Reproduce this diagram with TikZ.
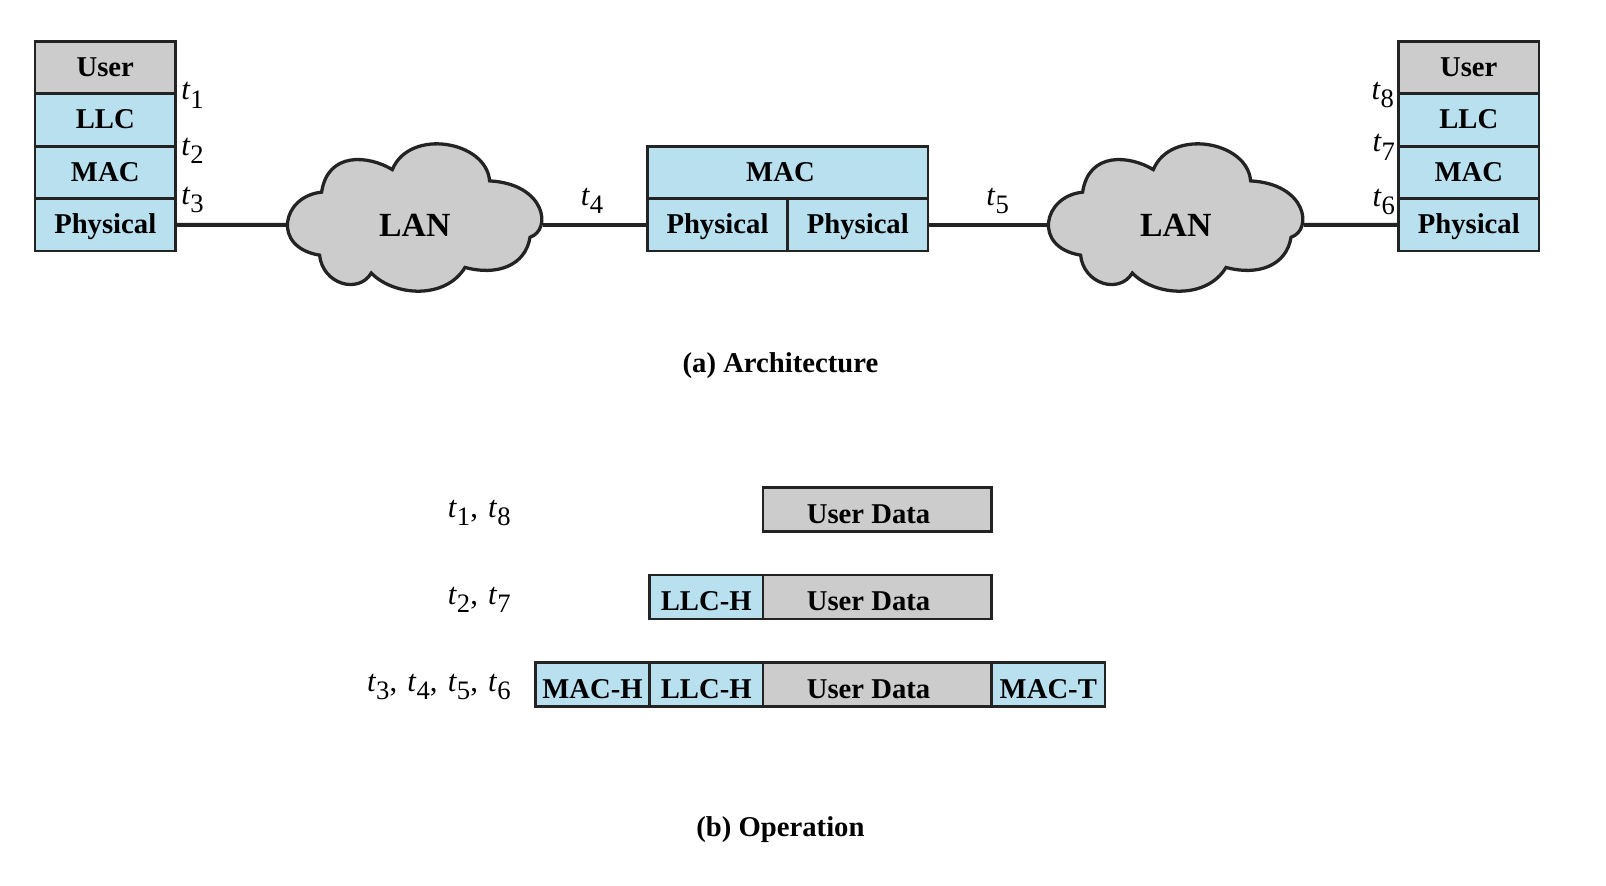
\documentclass[tikz,border=0pt]{standalone}
\usepackage{fontspec}
\setmainfont{Liberation Serif}
\definecolor{myblue}{RGB}{185,224,239}
\definecolor{mygray}{RGB}{204,204,204}
\definecolor{myline}{RGB}{35,35,35}
\usetikzlibrary{positioning}
\newcommand{\tsub}[1]{\textit{t}\raisebox{-0.27em}{\fontsize{13}{13}\selectfont #1}}
\newcommand{\tsep}{,\hspace{5pt}}
\newcommand{\lancloud}[1]{
  \draw[cloudline,shift={#1}]
    (-91,-32) .. controls (-130,-28) and (-140,22) .. (-93,29.5)
    .. controls (-90,58) and (-55,68) .. (-42.5,47)
    .. controls (-20,70) and (30,73) .. (49,41.5)
    .. controls (80,50) and (108,40) .. (112.5,12)
    .. controls (134,5) and (128,-40) .. (73,-43)
    .. controls (70,-82) and (-5,-95) .. (-22,-54)
    .. controls (-45,-68) and (-85,-72) .. (-91,-32)
    -- cycle;
}

\begin{document}
\begin{tikzpicture}[
  x=0.5pt,y=-0.5pt,
  font=\bfseries\fontsize{14}{16}\selectfont,
  layer/.style={
    draw=myline,
    line width=1.3pt,
    outer sep=0pt,
    inner sep=0pt,
    minimum width=68.5pt,
    minimum height=25.6pt,
    text height=10pt,
    text depth=1.5pt
    },
  bluelayer/.style={layer,fill=myblue},
  graylayer/.style={layer,fill=mygray},
  field/.style={
    draw=myline,
    line width=1.3pt,
    outer sep=0pt,
    inner sep=0pt,
    minimum width=#1,
    minimum height=21.5pt,
    text height=15pt,
    text depth=1.5pt
    },
  bluefield/.style={field=55.5pt,fill=myblue},
  grayfield/.style={field=111.5pt,fill=mygray},
  cloudline/.style={draw=myline,line width=1.6pt,fill=mygray},
  wire/.style={draw=myline,line width=1.9pt},
  lanlabel/.style={
    minimum width=125pt,
    minimum height=40pt,
    inner sep=0pt,
    outer sep=0pt,
    font=\bfseries\fontsize{16.5}{18}\selectfont
    },
  timelabel/.style={font=\fontsize{15}{17}\selectfont,inner sep=0pt}
]
\useasboundingbox (0,0) rectangle (1568,865);

% left station
\node[graylayer] (user1) at (102.75,66) {User};
\node[bluelayer,below=0pt of user1] (llc1) {LLC};
\node[bluelayer,below=0pt of llc1] (mac1) {MAC};
\node[bluelayer,below=0pt of mac1] (phys1) {Physical};

% right station
\node[graylayer] (user2) at (1434,66) {User};
\node[bluelayer,below=0pt of user2] (llc2) {LLC};
\node[bluelayer,below=0pt of llc2] (mac2) {MAC};
\node[bluelayer,below=0pt of mac2] (phys2) {Physical};

% bridge
\node[bluelayer,minimum width=137pt] (mac3) at (769,168.4) {MAC\hspace*{7pt}};
\node[bluelayer,below right=0pt and 0pt of mac3.south west] (phys3) {Physical};
\node[bluelayer,right=0pt of phys3] (phys4) {Physical};

% clouds
\lancloud{(405,219.6)}
\lancloud{(1148,219.6)}
\node[lanlabel] (lan1) at (405,219.6) {LAN};
\node[lanlabel] (lan2) at (1148,219.6) {LAN};

\draw[wire] (phys1.east) -- (lan1.west);
\draw[wire] (lan1.east) -- (phys3.west);
\draw[wire] (phys4.east) -- (lan2.west);
\draw[wire] (lan2.east) -- (phys2.west);

\foreach \Num/\Px/\Py in {1/188/93, 2/188/147, 3/188/195, 4/578/196, 5/974/196, 6/1351/197, 7/1351/144, 8/1350/93}
  \node[timelabel] (t\Num) at (\Px,\Py) {\tsub{\Num}};

\node (capa) at (762,357) {(a) Architecture};

% frames
\node[grayfield] (data1) at (856.5,497.5) {User Data\hspace*{8.5pt}};
\node[grayfield,below=21.25pt of data1] (data2) {User Data\hspace*{8.5pt}};
\node[grayfield,below=21.25pt of data2] (data3) {User Data\hspace*{8.5pt}};
\node[bluefield,left=0pt of data2] (llch2) {LLC-H};
\node[bluefield,left=0pt of data3] (llch3) {LLC-H};
\node[bluefield,left=0pt of llch3] (mach3) {MAC-H};
\node[bluefield,right=0pt of data3] (mact3) {MAC-T};

\node[timelabel,anchor=east] (row1) at (499,501) {\tsub{1}\tsep\tsub{8}};
\node[timelabel,anchor=east] (row2) at (499,586) {\tsub{2}\tsep\tsub{7}};
\node[timelabel,anchor=east] (row3) at (499,671) {\tsub{3}\tsep\tsub{4}\tsep\tsub{5}\tsep\tsub{6}};

\node (capb) at (762,810) {(b) Operation};

\end{tikzpicture}
\end{document}
